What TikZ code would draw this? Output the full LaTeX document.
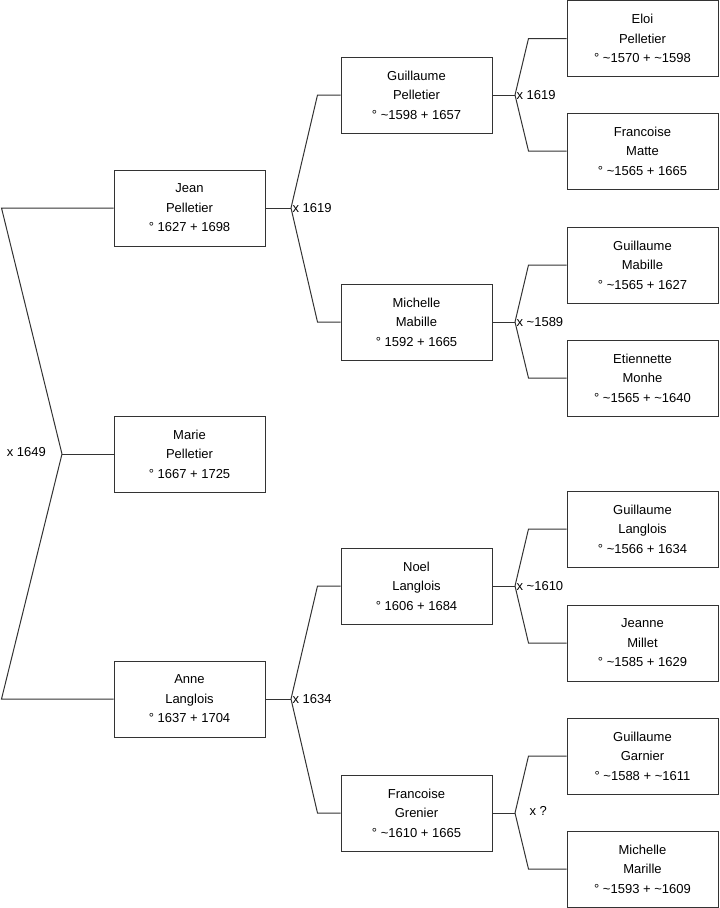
\documentclass[tikz,border=0pt]{standalone}
\usepackage{fontspec}
\setmainfont{Liberation Sans}
\begin{document}
\begin{tikzpicture}[x=0.75pt, y=-0.75pt]
% Family tree, coordinates in pixels of the drawing
\providecommand{\treeLineColor}{black!80}
\providecommand{\treeLineWidth}{0.75pt}
\tikzset{
  person/.style={draw=\treeLineColor, line width=\treeLineWidth, minimum width=113.25pt, minimum height=57pt, inner sep=0pt, align=center, font=\fontsize{9.75}{14.6}\selectfont},
  link/.style={draw=\treeLineColor, line width=\treeLineWidth},
  wedding/.style={inner sep=1pt, font=\fontsize{9.75}{11}\selectfont}
}
\useasboundingbox (0,0) rectangle (719,908);
% Generation 1
\node[person] (marie) at (189.5,454) {Marie\\Pelletier\\° 1667 + 1725};
% Generation 2
\node[person] (jean) at (189.5,208) {Jean\\Pelletier\\° 1627 + 1698};
\node[person] (anne) at (189.5,699) {Anne\\Langlois\\° 1637 + 1704};
% Generation 3
\node[person] (guillp) at (416.5,95) {Guillaume\\Pelletier\\° \textasciitilde1598 + 1657};
\node[person] (michm) at (416.5,322) {Michelle\\Mabille\\° 1592 + 1665};
\node[person] (noel) at (416.5,586) {Noel\\Langlois\\° 1606 + 1684};
\node[person] (frang) at (416.5,813) {Francoise\\Grenier\\° \textasciitilde1610 + 1665};
% Generation 4
\node[person] (eloi) at (642.5,38.5) {Eloi\\Pelletier\\° \textasciitilde1570 + \textasciitilde1598};
\node[person] (franm) at (642.5,151) {Francoise\\Matte\\° \textasciitilde1565 + 1665};
\node[person] (guillm) at (642.5,265) {Guillaume\\Mabille\\° \textasciitilde1565 + 1627};
\node[person] (etien) at (642.5,378) {Etiennette\\Monhe\\° \textasciitilde1565 + \textasciitilde1640};
\node[person] (guilll) at (642.5,529) {Guillaume\\Langlois\\° \textasciitilde1566 + 1634};
\node[person] (jeanne) at (642.5,643) {Jeanne\\Millet\\° \textasciitilde1585 + 1629};
\node[person] (guillg) at (642.5,756) {Guillaume\\Garnier\\° \textasciitilde1588 + \textasciitilde1611};
\node[person] (michma) at (642.5,869) {Michelle\\Marille\\° \textasciitilde1593 + \textasciitilde1609};
% Marriage points
\coordinate (m0) at (62,454);
\coordinate (m1) at (291,208);
\coordinate (m2) at (291,699);
\coordinate (m3) at (515,95);
\coordinate (m4) at (515,322);
\coordinate (m5) at (515,586);
\coordinate (m6) at (515,813);
% Links
\begin{scope}[link]
  \draw (marie.west) -- (m0);
  \draw (jean.west) -- ++(-112,0) -- (m0);
  \draw (anne.west) -- ++(-112,0) -- (m0);
  \draw (jean.east) -- (m1);
  \draw (guillp.west) -- ++(-23,0) -- (m1);
  \draw (michm.west) -- ++(-23,0) -- (m1);
  \draw (anne.east) -- (m2);
  \draw (noel.west) -- ++(-23,0) -- (m2);
  \draw (frang.west) -- ++(-23,0) -- (m2);
  \draw (guillp.east) -- (m3);
  \draw (eloi.west) -- ++(-38,0) -- (m3);
  \draw (franm.west) -- ++(-38,0) -- (m3);
  \draw (michm.east) -- (m4);
  \draw (guillm.west) -- ++(-38,0) -- (m4);
  \draw (etien.west) -- ++(-38,0) -- (m4);
  \draw (noel.east) -- (m5);
  \draw (guilll.west) -- ++(-38,0) -- (m5);
  \draw (jeanne.west) -- ++(-38,0) -- (m5);
  \draw (frang.east) -- (m6);
  \draw (guillg.west) -- ++(-38,0) -- (m6);
  \draw (michma.west) -- ++(-38,0) -- (m6);
\end{scope}
% Marriage years
\node[wedding, anchor=east] (w0) at (47.5,452) {x 1649};
\node[wedding, anchor=west] (w1) at (m1) {x 1619};
\node[wedding, anchor=west] (w2) at (m2) {x 1634};
\node[wedding, anchor=west] (w3) at (m3) {x 1619};
\node[wedding, anchor=west] (w4) at (m4) {x \textasciitilde1589};
\node[wedding, anchor=west] (w5) at (m5) {x \textasciitilde1610};
\node[wedding, anchor=west] (w6) at (528,811) {x ?};
\end{tikzpicture}
\end{document}
